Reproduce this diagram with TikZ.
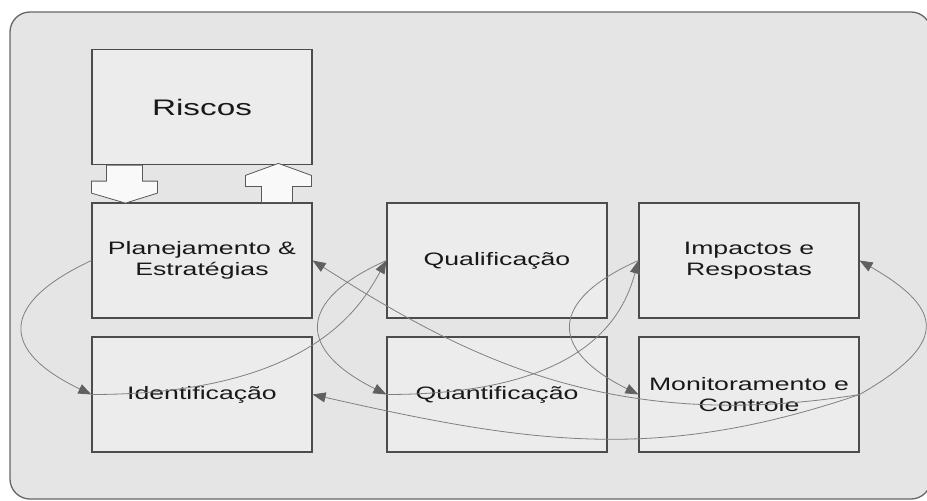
\documentclass[tikz,border=0pt]{standalone}
\usepackage{fontspec}
\usepackage{tikz}
\usetikzlibrary{arrows.meta, positioning}
\newfontfamily\boxfont[FakeStretch=1.48]{Liberation Sans}
\tikzstyle{panel} = [draw=black!60, line width=1.3pt, fill=gray!20, rounded corners=20pt]
\tikzstyle{box} = [rectangle, draw=black!70, line width=1.2pt, fill=gray!15, text=black!90, text centered, align=center, minimum width=220pt, minimum height=115pt, font=\boxfont\fontsize{18}{21}\selectfont]
\tikzstyle{bigbox} = [box, font=\boxfont\fontsize{22.5}{26}\selectfont]
\tikzstyle{blockarrow} = [draw=black!65, line width=0.8pt, fill=gray!5]
\tikzstyle{arrow} = [draw=gray, line width=0.8pt, -{Triangle[length=13pt, width=10pt, color=gray!75!black]}]

\begin{document}
\begin{tikzpicture}[x=1pt, y=1pt, node distance=134pt]
  \useasboundingbox (0,0) rectangle (927,-501);
  % Fundo
  \draw [panel] (10,-12) rectangle (931,-499);
  % Riscos
  \node (riscos) [bigbox] at (202,-107) {Riscos};
  % Etapas
  \node (planning) [box, below of=riscos, yshift=-19.5pt] {Planejamento \&\\Estratégias};
  \node (identif) [box, below of=planning] {Identificação};
  \node (qualif) [box, right of=planning, xshift=161pt] {Qualificação};
  \node (quantif) [box, below of=qualif] {Quantificação};
  \node (impactos) [box, right of=qualif, xshift=118pt] {Impactos e\\Respostas};
  \node (monitor) [box, below of=impactos] {Monitoramento e\\Controle};
  % Setas de bloco
  \draw [blockarrow] ([xshift=15pt]riscos.south west) -- ++(0,-16) -- ++(-15,0) -- ++(0,-12)
    -- ++(34,-10) -- ++(32,10) -- ++(0,12) -- ++(-15,0) -- ++(0,16) -- cycle;
  \draw [blockarrow] ([xshift=170pt]planning.north west) -- ++(0,16) -- ++(-16,0) -- ++(0,11)
    -- ++(33,12) -- ++(33,-12) -- ++(0,-11) -- ++(-19,0) -- ++(0,-16) -- cycle;
  % Setas
  \draw [arrow] (planning.west) .. controls +(-92,-43) and +(-92,44) .. (identif.west);
  \draw [arrow] (identif.west) .. controls +(220,0) and +(-25,-45) .. (qualif.west);
  \draw [arrow] (qualif.west) .. controls +(-90,-40) and +(-90,45) .. (quantif.west);
  \draw [arrow] (quantif.west) .. controls +(200,0) and +(-15,-55) .. (impactos.west);
  \draw [arrow] (impactos.west) .. controls +(-90,-40) and +(-90,45) .. (monitor.west);
  \draw [arrow] (monitor.east) .. controls +(-250,-40) and +(150,-95) .. (planning.east);
  \draw [arrow] (monitor.east) .. controls +(-200,-68) and +(220,-50) .. (identif.east);
  \draw [arrow] (monitor.east) .. controls +(87,50) and +(87,-50) .. (impactos.east);
\end{tikzpicture}
\end{document}
